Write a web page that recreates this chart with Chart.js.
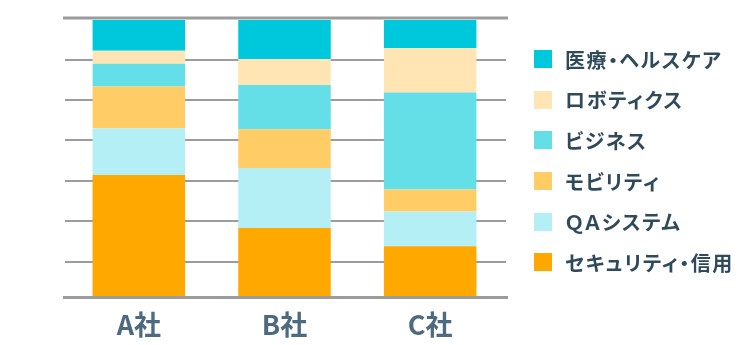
<!DOCTYPE html>
<html lang="ja">
<head>
<meta charset="utf-8">
<script src="https://cdn.jsdelivr.net/npm/chart.js@4"></script>
<style>
  html, body { margin: 0; padding: 0; background: #fff; }
  #wrap { position: relative; width: 748px; height: 345px; }
  #legend {
    position: absolute; left: 534px; top: 39px; margin: 0; padding: 0;
    list-style: none; font-family: "Noto Sans CJK JP", sans-serif;
    font-size: 20px; font-weight: 700; color: #2e4a5b;
    font-feature-settings: "palt"; letter-spacing: 1.5px;
  }
  #legend li { display: flex; align-items: center; height: 40.6px; }
  #legend .box { width: 18px; height: 18px; margin-right: 13px; flex: none; }
</style>
</head>
<body>
<div id="wrap">
  <canvas id="chart" width="748" height="345"></canvas>
  <ul id="legend"></ul>
</div>
<script>
// Companies on the x axis
const companies = ["A社", "B社", "C社"];

// Share (%) per field, bottom of the stack first
const security = [44.0, 24.9, 18.3];
const qaSystem = [16.9, 21.7, 12.6];
const mobility = [15.1, 14.0, 7.9];
const business = [8.2, 15.9, 35.0];
const robotics = [4.7, 9.4, 16.1];
const healthcare = [11.1, 14.1, 10.1];

// Horizontal guide lines inside the plot
const gridTicks = [12.7, 27.3, 41.8, 56.6, 71.1, 85.7];

const series = [
  { label: "セキュリティ・信用", data: security, color: "#ffa800" },
  { label: "ＱＡシステム", data: qaSystem, color: "#b3eff5" },
  { label: "モビリティ", data: mobility, color: "#ffcc66" },
  { label: "ビジネス", data: business, color: "#64dfe8" },
  { label: "ロボティクス", data: robotics, color: "#ffe5b3" },
  { label: "医療・ヘルスケア", data: healthcare, color: "#00c8dc" },
];

// grey rules: thin ones behind the bars, thick top/bottom ones over them
const rules = {
  id: "rules",
  beforeDatasetsDraw(chart) {
    const { ctx, chartArea, scales } = chart;
    ctx.save();
    ctx.strokeStyle = "#9c9c9c";
    ctx.lineWidth = 2;
    gridTicks.forEach((v) => {
      const y = Math.round(scales.y.getPixelForValue(v));
      ctx.beginPath();
      ctx.moveTo(chartArea.left - 1, y);
      ctx.lineTo(chartArea.right + 3, y);
      ctx.stroke();
    });
    ctx.restore();
  },
  afterDatasetsDraw(chart) {
    const { ctx, chartArea, scales } = chart;
    ctx.save();
    ctx.strokeStyle = "#9c9c9c";
    ctx.lineWidth = 3;
    [
      scales.y.getPixelForValue(100) - 2,
      scales.y.getPixelForValue(0) + 0.5,
    ].forEach((y) => {
      ctx.beginPath();
      ctx.moveTo(chartArea.left - 3, y);
      ctx.lineTo(chartArea.right + 5, y);
      ctx.stroke();
    });
    ctx.restore();
  },
};

const chart = new Chart(document.getElementById("chart"), {
  type: "bar",
  data: {
    labels: companies,
    datasets: series.map((s) => ({
      label: s.label,
      data: s.data,
      backgroundColor: s.color,
      borderWidth: 0,
      barPercentage: 0.635,
      categoryPercentage: 1,
    })),
  },
  options: {
    responsive: false,
    animation: false,
    layout: { padding: { left: 66, right: 245, top: 20, bottom: 0 } },
    plugins: {
      legend: { display: false },
      tooltip: { enabled: false },
    },
    scales: {
      x: {
        stacked: true,
        grid: { display: false, drawTicks: false },
        border: { display: false },
        ticks: {
          padding: 12,
          color: "#4d6a80",
          font: { family: "'Noto Sans CJK JP', sans-serif", size: 27, weight: 700 },
        },
        afterFit(scale) {
          scale.height = 48;
        },
      },
      y: {
        stacked: true,
        display: false,
        min: 0,
        max: 100,
      },
    },
  },
  plugins: [rules],
});

// legend list, top of the stack first
const legendEl = document.getElementById("legend");
series.slice().reverse().forEach((s) => {
  const li = document.createElement("li");
  const box = document.createElement("span");
  box.className = "box";
  box.style.background = s.color;
  li.appendChild(box);
  li.appendChild(document.createTextNode(s.label));
  legendEl.appendChild(li);
});
</script>
</body>
</html>
